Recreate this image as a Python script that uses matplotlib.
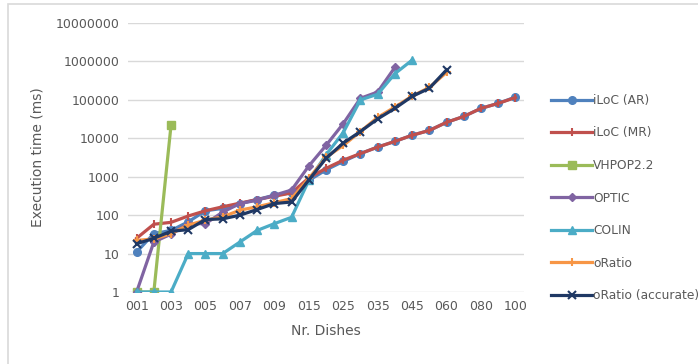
import matplotlib
matplotlib.use('Agg')
import matplotlib.pyplot as plt
from matplotlib.patches import Rectangle
import numpy as np

dishes = ['001', '002', '003', '004', '005', '006', '007', '008', '009', '010',
          '015', '020', '025', '030', '035', '040', '045', '050', '060', '070',
          '080', '090', '100']

iloc_ar = [11, 33, 40, 67, 130, 150, 200, 255, 330, 380, 800, 1500, 2500, 4000,
           5900, 8300, 12000, 16000, 26000, 37000, 60000, 81000, 118000]
iloc_mr = [25, 58, 65, 95, 130, 165, 205, 255, 310, 380, 930, 1650, 2700, 4000,
           5900, 8300, 12000, 16000, 26000, 37000, 60000, 81000, 115000]
vhpop = [1, 1, 22000]
optic = [1, 20, 32, 60, 60, 120, 200, 245, 330, 450, 1900, 6500, 24000, 110000,
         160000, 700000]
colin = [1, 1, 1, 10, 10, 10, 20, 40, 60, 88, 800, 3700, 14000, 100000, 140000,
         480000, 1080000]
oratio = [22, 24, 33, 55, 74, 90, 135, 165, 210, 270, 900, 3200, 6500, 15000,
          35000, 65000, 125000, 210000, 520000]
oratio_acc = [18, 25, 38, 42, 77, 80, 100, 140, 200, 220, 820, 3000, 7500, 15000,
              32000, 60000, 123000, 200000, 600000]

series = [
    ('iLoC (AR)', iloc_ar, '#4F81BD', 'o', 5.5, 1.0),
    ('iLoC (MR)', iloc_mr, '#C0504D', '|', 6, 1.5),
    ('VHPOP2.2', vhpop, '#9BBB59', 's', 5.5, 1.0),
    ('OPTIC', optic, '#8064A2', 'D', 4.5, 1.0),
    ('COLIN', colin, '#4BACC6', '^', 6, 1.0),
    ('oRatio', oratio, '#F79646', '+', 6, 1.5),
    ('oRatio (accurate)', oratio_acc, '#1F3864', 'x', 5.5, 1.5),
]

grey = '#595959'
fig = plt.figure(figsize=(6.98, 3.64), dpi=100)
ax = fig.add_axes([128 / 698, 1 - 292 / 364, (524 - 128) / 698, (292 - 23) / 364])

x = np.arange(len(dishes))
for name, vals, col, mk, ms, mew in series:
    ax.plot(x[:len(vals)], vals, color=col, lw=2.3, marker=mk, markersize=ms,
            markeredgecolor=col, markeredgewidth=mew, label=name)

ax.set_yscale('log')
ax.set_ylim(1, 1e7)
ax.set_xlim(-0.5, len(dishes) - 0.5)
ax.set_yticks([10 ** i for i in range(8)])
ax.set_yticklabels([str(10 ** i) for i in range(8)])
ax.minorticks_off()
ax.set_xticks(x[::2])
ax.set_xticklabels(dishes[::2])
ax.grid(axis='y', color='#D9D9D9', lw=1)
ax.set_axisbelow(True)
for s in ax.spines.values():
    s.set_visible(False)
ax.tick_params(length=0, labelsize=9, colors=grey, pad=6)
ax.set_xlabel('Nr. Dishes', fontsize=10, color=grey, labelpad=8)
ax.set_ylabel('Execution time (ms)', fontsize=10, color=grey, labelpad=8)

leg = fig.legend(loc='upper left', bbox_to_anchor=(546 / 698, 1 - 89 / 364),
                 frameon=False, fontsize=8.8, handlelength=3.4, handletextpad=0.05,
                 labelspacing=1.6, borderaxespad=0)
for t in leg.get_texts():
    t.set_color(grey)

fig.patches.append(Rectangle((8 / 698, -0.1), 1.2, 1 - 4 / 364 + 0.1,
                             transform=fig.transFigure, fill=False,
                             edgecolor='#D9D9D9', lw=1.2))

fig.savefig('out.png', dpi=100)
